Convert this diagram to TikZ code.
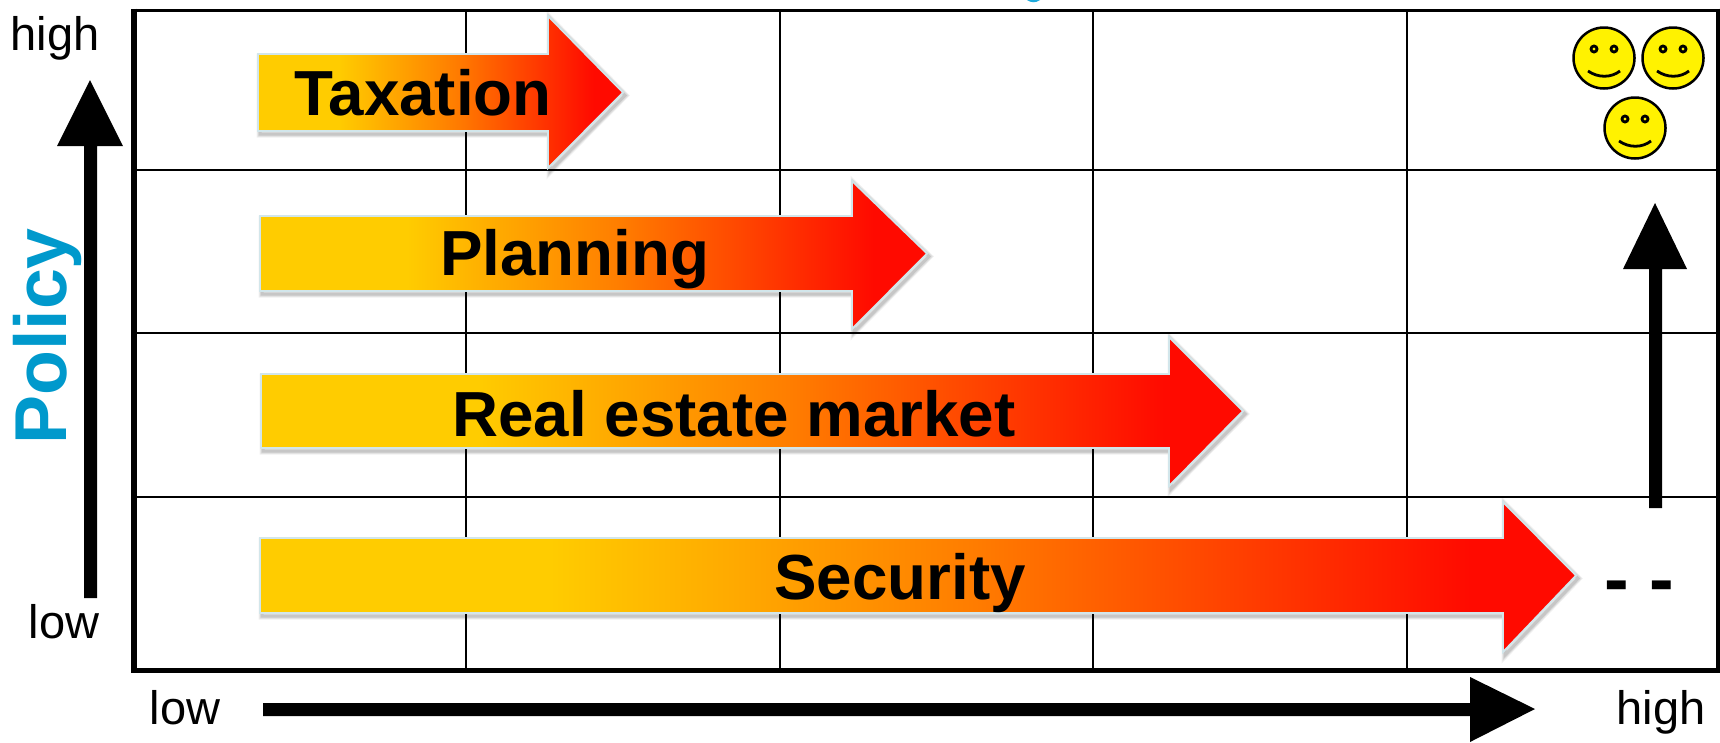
\documentclass[tikz,border=0pt]{standalone}
\usepackage{fontspec}
\setmainfont{Liberation Sans}
\definecolor{gold}{RGB}{255,204,0}
\definecolor{midor}{RGB}{255,125,0}
\definecolor{hotred}{RGB}{255,10,0}
\definecolor{rim}{RGB}{210,230,235}
\definecolor{polblue}{RGB}{0,153,204}
\definecolor{cutblue}{RGB}{30,170,220}
\pgfdeclarehorizontalshading{arrowshade}{100bp}{color(0bp)=(gold); color(36bp)=(gold); color(52bp)=(midor); color(71bp)=(hotred); color(100bp)=(hotred)}
\newcommand{\bigarrow}[7]{% left, bodytop, bodybottom, headx, tip, headtop, headbottom
  \pgfmathsetmacro{\midy}{(#2+#3)/2}
  \foreach \w/\o in {7/0.06,5/0.08,3/0.10}{
    \draw[line width=\w pt,black,opacity=\o,line join=miter,xshift=2pt,yshift=-3pt]
      (#1,#2) -- (#4,#2) -- (#4,#6) -- (#5,\midy) -- (#4,#7) -- (#4,#3) -- (#1,#3) -- cycle;
  }
  \draw[rim,line width=1.8pt,shading=arrowshade]
    (#1,#2) -- (#4,#2) -- (#4,#6) -- (#5,\midy) -- (#4,#7) -- (#4,#3) -- (#1,#3) -- cycle;
}
\newcommand{\smiley}[2]{%
  \draw[line width=2.5pt,fill=yellow] (#1,#2) circle[radius=30.5];
  \draw[line width=2.8pt] (#1-10,#2-9) circle[radius=3];
  \draw[line width=2.8pt] (#1+10,#2-9) circle[radius=3];
  \draw[line width=2.8pt] (#1-16,#2+13) .. controls (#1-6,#2+20) and (#1+7,#2+20) .. (#1+16,#2+13);
}
\tikzset{
  gridline/.style={line width=2.6pt,black},
  bar/.style={fill=black,draw=none},
  bartext/.style={font=\bfseries\fontsize{63.7}{64}\selectfont,inner sep=0pt,anchor=center},
  axistext/.style={font=\fontsize{47}{47}\selectfont,inner sep=0pt,anchor=base},
}
\begin{document}
\begin{tikzpicture}[x=1pt,y=-1pt]
\useasboundingbox (0,0) rectangle (1720,742);
\fill[white] (0,0) rectangle (1720,742);
\fill[cutblue] (1027,0) .. controls (1031,3) and (1036,3) .. (1040,0) -- cycle;
% grid
\foreach \gx in {466,780,1093,1407}{\draw[gridline] (\gx,10) -- (\gx,670);}
\foreach \gy in {170,333,497}{\draw[gridline] (134,\gy) -- (1718,\gy);}
\draw[line width=3pt] (131,10) -- (1718,10);
\draw[line width=4pt] (1718,8.5) -- (1718,673);
\draw[line width=5pt] (131,670.5) -- (1720,670.5);
\draw[line width=6pt] (134,8.5) -- (134,673);
% policy label
\node[font=\bfseries\fontsize{73.5}{74}\selectfont,text=polblue,rotate=90,inner sep=0pt] (policy) at (47,336.5) {Policy};
% axes arrows
\fill[bar] (84,598) -- (84,146) -- (57,146) -- (90,80) -- (123,146) -- (97,146) -- (97,598) -- cycle;
\fill[bar] (263,703) -- (1470,703) -- (1470,677) -- (1535,709) -- (1470,742) -- (1470,716) -- (263,716) -- cycle;
\fill[bar] (1649,508) -- (1649,269) -- (1623,269) -- (1655,203) -- (1687,269) -- (1662,269) -- (1662,508) -- cycle;
% big arrows
\bigarrow{258}{54}{131}{548}{623}{16}{168}
\bigarrow{260}{216}{291}{852}{927}{181}{329}
\bigarrow{261}{374}{448}{1169}{1243}{337}{486}
\bigarrow{260}{538}{613}{1503}{1576}{502}{652}
\node[bartext] (tax) at (423,93) {Taxation};
\node[bartext] (plan) at (574.5,259) {Planning};
\node[bartext] (real) at (734,414) {Real estate market};
\node[bartext] (sec) at (900,583) {Security};
% axis text
\node[axistext] (hi) at (55,50) {high};
\node[axistext] (lo) at (64,638) {low};
\node[axistext] (xlo) at (185,724) {low};
\node[axistext] (xhi) at (1661,724) {high};
\node[font=\bfseries\fontsize{74}{74}\selectfont,inner sep=0pt] (dashes) at (1639,593) {- -};
% smileys
\smiley{1604}{58}
\smiley{1673}{58}
\smiley{1635}{128}
\end{tikzpicture}
\end{document}
